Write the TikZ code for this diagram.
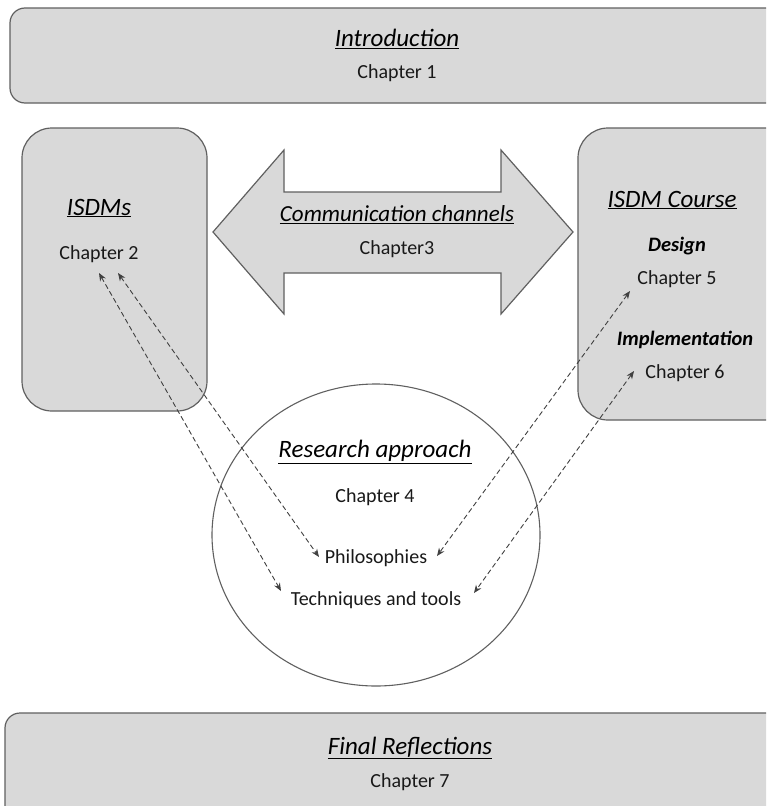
\documentclass[tikz,border=0pt]{standalone}
\usepackage{fontspec}
\setmainfont{Carlito}
\usetikzlibrary{shapes.geometric,arrows.meta}
\definecolor{boxfill}{HTML}{D9D9D9}
\definecolor{boxline}{HTML}{606060}
\tikzset{
  box/.style={draw=boxline, fill=boxfill, line width=1.2pt, inner sep=0pt},
  txt/.style={inner sep=0pt, font=\fontsize{20}{23}\selectfont, text=black!90},
  ttl/.style={inner sep=0pt, font=\fontsize{25}{28}\selectfont\itshape, text=black},
  sub/.style={inner sep=0pt, font=\fontsize{20.5}{23}\selectfont\bfseries\itshape, text=black},
  link/.style={draw=black!75, line width=0.9pt, dash pattern=on 5pt off 3pt, {Stealth[length=8pt,width=6.5pt]}-{Stealth[length=8pt,width=6.5pt]}}
}
\begin{document}
\begin{tikzpicture}[x=1pt,y=-1pt]
\useasboundingbox (0,0) rectangle (766,806);
\clip (0,0) rectangle (766,806);
% boxes
\node[box, rounded corners=15pt, minimum width=772pt, minimum height=95pt] (intro) at (396,55.5) {};
\node[box, rounded corners=30pt, minimum width=185pt, minimum height=283pt] (isdm) at (114.5,269.5) {};
\node[box, rounded corners=30pt, minimum width=220pt, minimum height=292pt] (course) at (688,274) {};
\node[box, rounded corners=15pt, minimum width=780pt, minimum height=110pt] (final) at (395,768) {};
% double arrow
\draw[box] (213,232) -- (284,150) -- (284,192) -- (501,192) -- (501,150) -- (573,232)
  -- (501,314) -- (501,273) -- (284,273) -- (284,314) -- cycle;
% circle
\node[draw=boxline, line width=1.1pt, ellipse, minimum width=328pt, minimum height=302pt] (research) at (376,535) {};
% texts
\node[ttl] (tIntro) at (397,39) {\underline{Introduction}};
\node[txt] (c1) at (397,73) {Chapter 1};
\node[ttl] (tIsdm) at (99,208) {\underline{ISDMs}};
\node[txt] (c2) at (99,254) {Chapter 2};
\node[ttl, font=\fontsize{23}{26}\selectfont\itshape] (tComm) at (397,215) {\underline{Communication channels}};
\node[txt] (c3) at (397,249) {Chapter3};
\node[ttl] (tCourse) at (672,200) {\underline{ISDM Course}};
\node[sub] (design) at (677,246) {Design};
\node[txt] (c5) at (677,279) {Chapter 5};
\node[sub] (impl) at (685,340) {Implementation};
\node[txt] (c6) at (685,373) {Chapter 6};
\node[ttl] (tRes) at (375,452) {\underline{Research approach}};
\node[txt] (c4) at (375,497) {Chapter 4};
\node[txt] (phil) at (376,558) {Philosophies};
\node[txt] (tech) at (376,600) {Techniques and tools};
\node[ttl] (tFinal) at (410,748) {\underline{Final Reflections}};
\node[txt] (c7) at (410,782) {Chapter 7};
% arrow endpoints
\coordinate (a1s) at (99,273);
\coordinate (a1e) at (281,591);
\coordinate (a2s) at (118,273);
\coordinate (a2e) at (319,557);
\coordinate (a3s) at (630,291);
\coordinate (a3e) at (437,556);
\coordinate (a4s) at (634,371);
\coordinate (a4e) at (474,593);
\draw[link] (a1s) -- (a1e);
\draw[link] (a2s) -- (a2e);
\draw[link] (a3s) -- (a3e);
\draw[link] (a4s) -- (a4e);
\end{tikzpicture}
\end{document}
